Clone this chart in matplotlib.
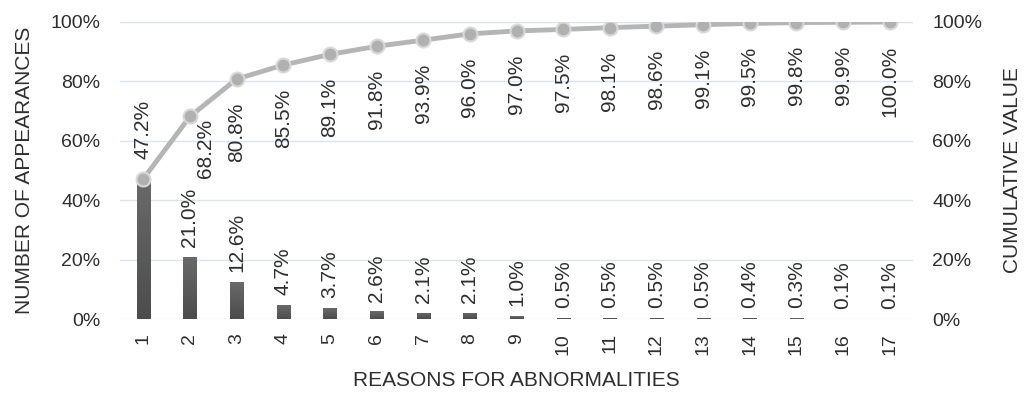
import numpy as np
import matplotlib
matplotlib.use("Agg")
import matplotlib.pyplot as plt
from matplotlib.ticker import FuncFormatter

# chart data
reasons = [str(i) for i in range(1, 18)]
share = [47.2, 21.0, 12.6, 4.7, 3.7, 2.6, 2.1, 2.1, 1.0, 0.5, 0.5, 0.5, 0.5, 0.4, 0.3, 0.1, 0.1]
cumulative = [47.2, 68.2, 80.8, 85.5, 89.1, 91.8, 93.9, 96.0, 97.0, 97.5, 98.1, 98.6, 99.1, 99.5, 99.8, 99.9, 100.0]
y_ticks = [0, 20, 40, 60, 80, 100]

plt.rcParams['font.family'] = ['Liberation Sans', 'DejaVu Sans']
text_col = '#2e2e2e'
fs_tick = 14
fs_lab = 15
fs_title = 15

fig = plt.figure(figsize=(10.24, 3.94), dpi=100)
ax = fig.add_axes([120 / 1024, 75 / 394, 793 / 1024, 297 / 394])
x = np.arange(1, len(reasons) + 1)

for t in y_ticks:
    ax.axhline(t, color='#dde3ec', lw=1, zorder=0)

# bars with a vertical grey gradient
bars = ax.bar(x, share, width=0.28, color='none', zorder=2)
grad = np.linspace(0, 1, 256).reshape(-1, 1)
cmap = matplotlib.colors.LinearSegmentedColormap.from_list('g', ['#4c4c4c', '#6a6a6a'])
for b in bars:
    x0, w, h = b.get_x(), b.get_width(), b.get_height()
    im = ax.imshow(grad, cmap=cmap, origin='lower', aspect='auto',
                   extent=(x0, x0 + w, 0, h), zorder=2)
    im.set_clip_path(b)
ax.set_xlim(0.5, len(reasons) + 0.5)
ax.set_ylim(0, 100)

# cumulative line
ax.plot(x, cumulative, color='#b5b5b5', lw=3.5, zorder=3,
        marker='o', ms=10, mfc='#b0b0b0', mec='#d8d8d8', mew=1.5)

# bar labels
for i, (xi, v) in enumerate(zip(x, share)):
    dy = 14 if i == 0 else 7
    ax.annotate(f'{v:.1f}%', (xi, v), xytext=(0, dy), textcoords='offset points',
                rotation=90, ha='center', va='bottom', fontsize=fs_lab, color=text_col, zorder=4)
# cumulative labels (first one coincides with the bar label)
for i, (xi, v) in enumerate(zip(x, cumulative)):
    if i == 0:
        continue
    dx, dy = (11, -2) if i == 1 else (0, -17)
    ax.annotate(f'{v:.1f}%', (xi, v), xytext=(dx, dy), textcoords='offset points',
                rotation=90, ha='center', va='top', fontsize=fs_lab, color=text_col, zorder=4)

pct = FuncFormatter(lambda v, p: f'{v:.0f}%')
ax.set_yticks(y_ticks)
ax.yaxis.set_major_formatter(pct)
ax.set_xticks(x)
ax.set_xticklabels(reasons, rotation=90)
ax.tick_params(axis='both', length=0, labelsize=fs_tick, colors=text_col)
ax.tick_params(axis='y', pad=14)
ax.tick_params(axis='x', pad=10)
for s in ax.spines.values():
    s.set_visible(False)

ax2 = ax.twinx()
ax2.set_ylim(0, 100)
ax2.set_yticks(y_ticks)
ax2.yaxis.set_major_formatter(pct)
ax2.tick_params(axis='y', length=0, labelsize=fs_tick, colors=text_col, pad=14)
for s in ax2.spines.values():
    s.set_visible(False)

ax.set_xlabel('REASONS FOR ABNORMALITIES', fontsize=fs_title, color=text_col, labelpad=12)
ax.set_ylabel('NUMBER OF APPEARANCES', fontsize=fs_title, color=text_col, labelpad=12)
ax2.set_ylabel('CUMULATIVE VALUE', fontsize=fs_title, color=text_col, labelpad=15)

fig.savefig('out.png', dpi=100)
